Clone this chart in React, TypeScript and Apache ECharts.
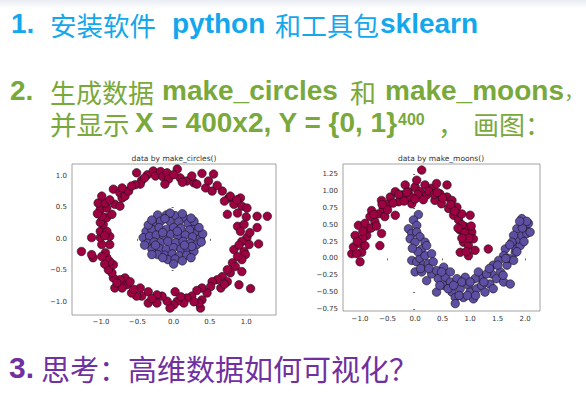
import React, { useEffect, useRef } from "react";
import * as echarts from "echarts";

// ---- data ----
const circlesOuter: number[][] = [
  [-0.51, 1.05], [-0.44, 0.93], [-0.46, 0.87], [-0.53, 0.86], [-0.36, 1.02], [-0.28, 1.08], [-0.25, 1.0],
  [-0.18, 1.07], [-0.15, 0.99], [-0.09, 1.05], [-0.07, 0.95], [-0.12, 0.87], [0.05, 1.11], [0.09, 0.97],
  [0.18, 0.92], [0.28, 0.89], [0.25, 1.0], [0.39, 1.04], [0.32, 0.87], [0.44, 0.81], [0.55, 1.03],
  [0.48, 0.92], [0.53, 0.76], [0.67, 0.76], [0.76, 0.65], [0.78, 0.68], [0.83, 0.55], [0.92, 0.65],
  [0.94, 0.52], [1.01, 0.49], [0.74, 0.39], [0.88, 0.41], [1.15, 0.36], [1.29, 0.36],
  [0.88, 0.2], [0.97, 0.23], [0.92, 0.12], [1.15, 0.18], [1.01, 0.02], [0.94, -0.04], [1.04, -0.09],
  [1.17, -0.08], [0.97, -0.2], [0.83, -0.17], [0.99, -0.25], [0.94, -0.33], [0.81, -0.38], [0.85, -0.44],
  [0.94, -0.52], [0.78, -0.54], [0.74, -0.49], [0.67, -0.6], [0.6, -0.65], [0.53, -0.68], [0.74, -0.68],
  [0.9, -0.73], [1.06, -0.79], [0.65, -0.78], [0.51, -0.76],
  [0.46, -0.86], [0.39, -0.78], [0.32, -0.82], [0.39, -0.97], [0.37, -1.1], [0.35, -1.02], [0.25, -0.91],
  [0.18, -0.94], [0.14, -1.02], [0.05, -0.99], [0.02, -0.84], [0.0, -1.05], [-0.05, -1.1], [-0.09, -0.99],
  [-0.16, -0.91], [-0.23, -0.89], [-0.23, -1.02], [-0.35, -1.02], [-0.35, -0.84], [-0.46, -0.78],
  [-0.44, -0.91], [-0.51, -0.91], [-0.58, -0.86], [-0.65, -0.73], [-0.67, -0.62], [-0.6, -0.68],
  [-0.74, -0.65], [-0.81, -0.78], [-0.71, -0.78], [-0.83, -0.62], [-0.85, -0.54], [-0.9, -0.49],
  [-0.83, -0.41], [-0.88, -0.36], [-0.92, -0.3], [-0.94, -0.22], [-0.99, -0.28], [-1.11, -0.3],
  [-1.13, -0.25], [-1.27, -0.2], [-0.99, -0.09], [-0.88, -0.09], [-1.01, 0.02], [-0.88, 0.04],
  [-1.13, 0.02], [-1.01, 0.12], [-0.92, 0.12], [-0.97, 0.23], [-1.01, 0.26], [-0.92, 0.34],
  [-0.99, 0.36], [-0.85, 0.39], [-1.01, 0.47], [-0.92, 0.49], [-1.04, 0.57], [-0.94, 0.57],
  [-0.99, 0.68], [-0.81, 0.55], [-0.74, 0.52], [-0.83, 0.79], [-0.74, 0.73], [-0.71, 0.65],
  [-0.67, 0.68], [-0.62, 0.76], [-0.71, 0.81], [-0.58, 0.84],
  [-0.4, 0.97], [0.0, 1.02], [0.12, 0.9], [0.6, 0.85], [0.7, 0.6], [0.87, 0.62], [1.0, 0.35],
  [1.05, 0.1], [0.9, -0.1], [0.88, -0.28], [0.7, -0.72], [0.28, -1.0], [0.1, -0.92], [-0.3, -0.95],
  [-0.55, -0.8], [-0.78, -0.7], [-0.95, -0.4], [-0.95, 0.05], [-1.05, 0.4], [-0.88, 0.62],
];

const circlesInner: number[][] = [
  [-0.22, 0.38], [-0.1, 0.38], [0.02, 0.37], [0.15, 0.33], [-0.28, 0.25], [-0.18, 0.28], [-0.05, 0.28],
  [0.07, 0.27], [0.2, 0.25], [0.3, 0.2], [-0.38, 0.12], [-0.3, 0.15], [-0.2, 0.18], [-0.1, 0.15],
  [0.0, 0.18], [0.1, 0.17], [0.22, 0.14], [0.33, 0.1], [-0.42, 0.02], [-0.33, 0.04], [-0.24, 0.06],
  [-0.14, 0.05], [-0.04, 0.07], [0.06, 0.05], [0.16, 0.06], [0.26, 0.03], [0.37, 0.01], [-0.36, -0.07],
  [-0.27, -0.05], [-0.18, -0.06], [-0.08, -0.04], [0.03, -0.06], [0.13, -0.04], [0.23, -0.07],
  [0.32, -0.09], [-0.3, -0.16], [-0.2, -0.15], [-0.1, -0.17], [0.0, -0.14], [0.1, -0.16], [0.2, -0.18],
  [0.28, -0.2], [-0.22, -0.25], [-0.12, -0.26], [-0.02, -0.24], [0.08, -0.27], [0.18, -0.26],
  [-0.08, -0.33], [0.02, -0.32], [0.12, -0.35], [0.0, -0.4], [-0.05, 0.41], [0.12, 0.4], [-0.15, -0.3],
  [0.25, -0.12], [-0.4, -0.1], [0.4, 0.08], [0.35, 0.18], [-0.35, 0.22], [0.05, 0.12], [-0.15, 0.1],
  [0.15, -0.1], [-0.25, -0.1], [0.28, 0.28], [-0.3, 0.3],
  [-0.12, 0.32], [0.24, 0.33], [-0.3, -0.25], [0.24, -0.3], [0.38, -0.05],
];

const moonsUpper: number[][] = [
  [-1.15, 0.07], [-1.12, 0.17], [-1.09, 0.34], [-1.03, 0.49], [-1.0, 0.22], [-0.97, 0.09], [-1.0, -0.05],
  [-1.06, 0.07], [-0.91, 0.19], [-0.88, 0.34], [-0.85, 0.44], [-0.91, 0.52], [-0.82, 0.62], [-0.79, 0.71],
  [-0.73, 0.54], [-0.64, 0.19], [-0.61, 0.37], [-0.67, 0.66], [-0.58, 0.74], [-0.61, 0.86], [-0.48, 0.81],
  [-0.55, 0.62], [-0.45, 0.91], [-0.36, 0.99], [-0.36, 0.64], [-0.3, 0.84], [-0.24, 0.94], [-0.18, 1.09],
  [-0.12, 0.99], [-0.06, 0.81], [-0.09, 0.91], [0.0, 1.06], [0.03, 1.16], [0.09, 0.99], [0.12, 1.31],
  [0.18, 1.09], [0.21, 0.94], [0.3, 1.04], [0.36, 0.86], [0.39, 1.11], [0.45, 0.96], [0.48, 0.81],
  [0.58, 1.09], [0.58, 0.91], [0.61, 0.74], [0.67, 0.86], [0.7, 0.64], [0.76, 0.76], [0.79, 0.57],
  [0.85, 0.66], [0.82, 0.42], [0.91, 0.47], [1.0, 0.64], [0.94, 0.34], [1.03, 0.39], [1.06, 0.29],
  [0.88, 0.24], [0.97, 0.19], [0.82, 0.09], [1.09, 0.12], [0.97, 0.04], [1.33, 0.14],
  [-0.95, 0.3], [-1.05, 0.25], [-0.8, 0.45], [-0.7, 0.48], [-0.5, 0.72], [-0.4, 0.82], [-0.2, 0.85],
  [-0.15, 0.98], [0.05, 0.95], [0.15, 0.87], [0.25, 1.0], [0.35, 0.95], [0.5, 0.9], [0.65, 0.8],
  [0.72, 0.7], [0.85, 0.5], [0.9, 0.38], [0.98, 0.3], [0.93, 0.1], [1.02, 0.48], [-0.95, 0.4],
  [-0.75, 0.65], [-0.6, 0.8], [-0.3, 0.95], [0.0, 0.88], [0.4, 0.98], [0.78, 0.45], [0.85, 0.3],
];

const moonsLower: number[][] = [
  [0.06, 0.65], [-0.03, 0.57], [0.03, 0.49], [-0.12, 0.44], [-0.06, 0.37], [0.03, 0.39], [0.09, 0.32],
  [-0.09, 0.29], [0.0, 0.24], [0.18, 0.24], [0.12, 0.14], [0.21, 0.19], [-0.06, -0.03], [0.03, -0.05],
  [0.09, 0.0], [0.18, 0.04], [0.3, 0.07], [0.15, -0.1], [0.24, -0.08], [0.33, -0.05], [0.0, -0.2],
  [0.12, -0.2], [0.21, -0.33], [0.3, -0.23], [0.39, -0.18], [0.52, -0.13], [0.42, -0.3], [0.55, -0.28],
  [0.39, -0.5], [0.52, -0.4], [0.64, -0.35], [0.67, -0.5], [0.73, -0.58], [0.73, -0.67], [0.82, -0.45],
  [0.88, -0.58], [0.97, -0.4], [1.0, -0.5], [1.06, -0.6], [1.12, -0.45], [1.18, -0.28], [1.21, -0.4],
  [1.27, -0.5], [1.36, -0.38], [1.42, -0.45], [1.39, -0.23], [1.48, -0.3], [1.55, -0.2], [1.61, -0.35],
  [1.67, -0.1], [1.73, -0.38], [1.7, 0.0], [1.79, -0.03], [1.82, 0.09], [1.79, 0.19], [1.91, 0.19],
  [1.88, 0.29], [1.94, 0.34], [2.03, 0.37], [2.0, 0.47], [1.94, 0.59], [2.06, 0.52], [2.09, 0.39],
  [1.85, 0.44], [1.79, 0.34], [1.76, 0.24], [1.64, 0.14], [1.61, 0.04], [1.52, -0.03], [1.42, -0.1],
  [1.3, -0.23], [1.09, -0.3], [0.91, -0.28], [0.76, -0.3], [0.64, -0.2],
  [0.05, 0.1], [-0.05, 0.15], [0.1, -0.15], [0.25, -0.15], [0.45, -0.4], [0.6, -0.45], [0.8, -0.55],
  [0.95, -0.55], [1.1, -0.55], [1.25, -0.35], [1.5, -0.1], [1.65, 0.0], [1.72, 0.2], [1.85, 0.1],
  [1.95, 0.45], [2.03, 0.55], [0.85, -0.35], [1.0, -0.35], [1.15, -0.2], [0.7, -0.4], [0.48, -0.2],
  [1.35, -0.15], [1.6, -0.25], [1.9, 0.55], [1.98, 0.25],
];

const circlesXTicks = [-1.0, -0.5, 0.0, 0.5, 1.0];
const circlesYTicks = [-1.0, -0.5, 0.0, 0.5, 1.0];
const moonsXTicks = [-1.0, -0.5, 0.0, 0.5, 1.0, 1.5, 2.0];
const moonsYTicks = [-0.75, -0.5, -0.25, 0.0, 0.25, 0.5, 0.75, 1.0, 1.25];

const RED = "#9e0142";
const BLUE = "#5e4fa2";
const LATIN = '"Liberation Sans", Arial, sans-serif';
const CJK = '"Noto Sans CJK SC", sans-serif';

const fmt = (d: number) => (v: number) => (v < 0 ? "\u2212" : "") + Math.abs(v).toFixed(d);

function axis(gridIndex: number, min: number, max: number, ticks: number[], digits: number, margin: number) {
  return {
    type: "value",
    gridIndex,
    min,
    max,
    splitLine: { show: false },
    axisLine: { show: false },
    axisTick: { show: true, length: 2, customValues: ticks, lineStyle: { color: "#444", width: 0.8 } },
    axisLabel: {
      customValues: ticks,
      formatter: fmt(digits),
      fontSize: 7,
      color: "#333",
      fontFamily: '"DejaVu Sans", sans-serif',
      margin,
    },
  };
}

function t(text: string, x: number, y: number, size: number, color: string, font: string, weight = "normal") {
  return {
    type: "text",
    x,
    y,
    silent: true,
    style: {
      text, fill: color, fontSize: size, fontFamily: font, fontWeight: weight,
      lineHeight: size, verticalAlign: "middle", align: "left",
    },
  };
}

function scatter(data: number[][], color: string, idx: number) {
  return {
    type: "scatter",
    xAxisIndex: idx,
    yAxisIndex: idx,
    data,
    symbolSize: 8.5,
    itemStyle: { color, borderColor: "#111", borderWidth: 0.6, opacity: 1 },
  };
}

export default function App() {
  const ref = useRef<HTMLDivElement>(null);
  useEffect(() => {
    if (!ref.current) return;
    const chart = echarts.init(ref.current, null, { renderer: "svg" });
    const BLUE_T = "#14a7ec";
    const GREEN_T = "#79a83b";
    const PURPLE_T = "#7030a0";
    chart.setOption({
      animation: false,
      backgroundColor: "#ffffff",
      grid: [
        { left: 72, top: 164, width: 204, height: 151, show: true, borderColor: "#8a8a8a", borderWidth: 0.8, backgroundColor: "#fff" },
        { left: 343, top: 164, width: 197, height: 147, show: true, borderColor: "#8a8a8a", borderWidth: 0.8, backgroundColor: "#fff" },
      ],
      xAxis: [
        axis(0, -1.4, 1.41, circlesXTicks, 1, 3),
        axis(1, -1.31, 2.27, moonsXTicks, 1, 4),
      ],
      yAxis: [
        axis(0, -1.21, 1.19, circlesYTicks, 1, 5),
        axis(1, -0.78, 1.4, moonsYTicks, 2, 5),
      ],
      series: [
        scatter(circlesOuter, RED, 0),
        scatter(circlesInner, BLUE, 0),
        scatter(moonsUpper, RED, 1),
        scatter(moonsLower, BLUE, 1),
      ],
      graphic: [
        {
          type: "rect",
          shape: { x: 0, y: 0, width: 586, height: 9 },
          silent: true,
          style: {
            fill: new echarts.graphic.LinearGradient(0, 0, 0, 1, [
              { offset: 0, color: "#e9edf3" },
              { offset: 1, color: "#ffffff" },
            ]),
          },
        },
        // line 1
        t("1.", 11, 23, 28, BLUE_T, LATIN, "bold"),
        t("安装软件", 50, 24, 26.5, BLUE_T, CJK),
        t("python", 172, 23, 28, BLUE_T, LATIN, "bold"),
        t("和工具包", 275, 24, 26, BLUE_T, CJK),
        t("sklearn", 380, 23, 28, BLUE_T, LATIN, "bold"),
        // line 2
        t("2.", 10, 90, 28, GREEN_T, LATIN, "bold"),
        t("生成数据", 50, 91, 26, GREEN_T, CJK),
        t("make_circles", 162, 90, 28, GREEN_T, LATIN, "bold"),
        t("和", 350, 91, 26, GREEN_T, CJK),
        {
          type: "text",
          x: 385,
          y: 90,
          silent: true,
          style: {
            text: "{l|make_moons}{c|，}",
            verticalAlign: "middle",
            align: "left",
            rich: {
              l: { fill: GREEN_T, fontSize: 28, lineHeight: 28, fontFamily: LATIN, fontWeight: "bold" },
              c: { fill: GREEN_T, fontSize: 20, lineHeight: 28, fontFamily: CJK },
            },
          },
        },
        t("并显示", 50, 123, 26.5, GREEN_T, CJK),
        t("X = 400x2, Y = {0, 1}", 135, 122, 28, GREEN_T, LATIN, "bold"),
        t("400", 398, 119, 16, GREEN_T, LATIN, "bold"),
        t("，", 438, 123, 26, GREEN_T, CJK),
        t("画图：", 473, 123, 26, GREEN_T, CJK),
        // line 3
        t("3.", 9, 367, 30, PURPLE_T, LATIN, "bold"),
        t("思考：高维数据如何可视化？", 41, 368, 29, PURPLE_T, CJK),
        // plot titles
        { type: "text", x: 174, y: 158, silent: true, style: { text: "data by make_circles()", fill: "#333", fontSize: 7.5, fontFamily: '"DejaVu Sans", sans-serif', align: "center", verticalAlign: "middle" } },
        { type: "text", x: 441, y: 158, silent: true, style: { text: "data by make_moons()", fill: "#333", fontSize: 7.5, fontFamily: '"DejaVu Sans", sans-serif', align: "center", verticalAlign: "middle" } },
      ],
    });
    return () => chart.dispose();
  }, []);
  return <div ref={ref} style={{ position: "fixed", left: 0, top: 0, width: 586, height: 397 }} />;
}
